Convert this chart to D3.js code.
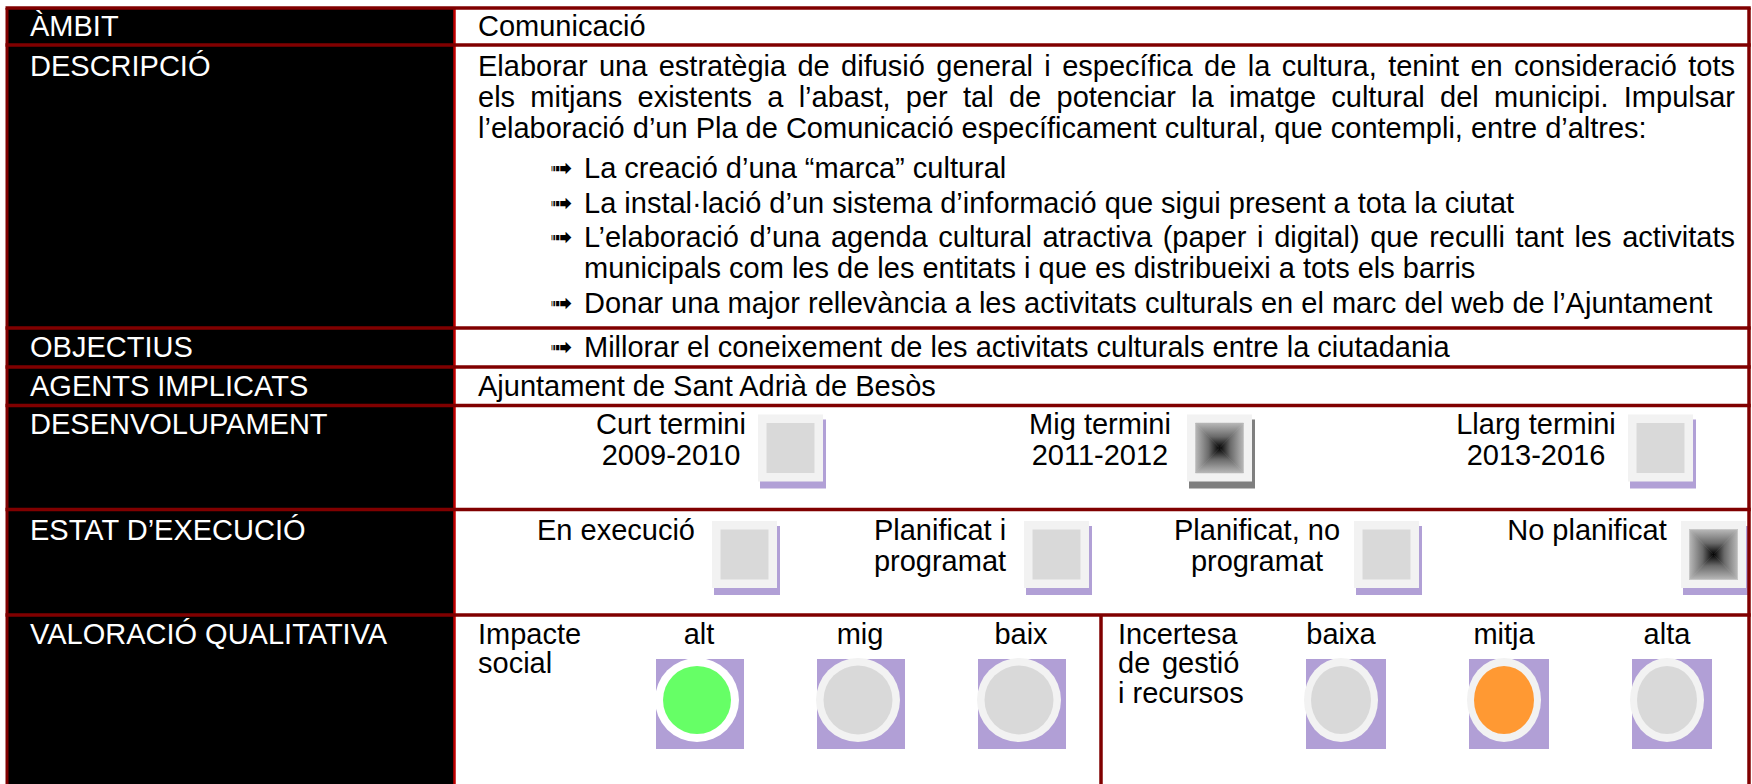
<!DOCTYPE html>
<html><head><meta charset="utf-8">
<script src="https://cdn.jsdelivr.net/npm/d3@7"></script>
<style>
body{margin:0;background:#fff;}
svg{display:block;}
text{font-family:"Liberation Sans",Arial,sans-serif;}
</style>
</head><body>
<svg id="c" width="1752" height="784"></svg>
<script>
// ---------- DATA ----------
const rowLabels = ["ÀMBIT","DESCRIPCIÓ","OBJECTIUS","AGENTS IMPLICATS","DESENVOLUPAMENT","ESTAT D’EXECUCIÓ","VALORACIÓ QUALITATIVA"];
const ambit = "Comunicació";
const descLines = [
  "Elaborar una estratègia de difusió general i específica de la cultura, tenint en consideració tots",
  "els mitjans existents a l’abast, per tal de potenciar la imatge cultural del municipi. Impulsar",
  "l’elaboració d’un Pla de Comunicació específicament cultural, que contempli, entre d’altres:"
];
const descJustified = [true, true, false];
const descBullets = [
  ["La creació d’una “marca” cultural"],
  ["La instal·lació d’un sistema d’informació que sigui present a tota la ciutat"],
  ["L’elaboració d’una agenda cultural atractiva (paper i digital) que reculli tant les activitats",
   "municipals com les de les entitats i que es distribueixi a tots els barris"],
  ["Donar una major rellevància a les activitats culturals en el marc del web de l’Ajuntament"]
];
const objectius = ["Millorar el coneixement de les activitats culturals entre la ciutadania"];
const agents = "Ajuntament de Sant Adrià de Besòs";
const terminiLabels = [["Curt termini","2009-2010"],["Mig termini","2011-2012"],["Llarg termini","2013-2016"]];
const terminiChecked = [false, true, false];
const estatLabels = [["En execució"],["Planificat i","programat"],["Planificat, no","programat"],["No planificat"]];
const estatChecked = [false, false, false, true];
const impacteTitle = ["Impacte","social"];
const impacteLevels = ["alt","mig","baix"];
const impacteSelected = "alt";
const incertesaTitle = ["Incertesa","de gestió","i recursos"];
const incertesaLevels = ["baixa","mitja","alta"];
const incertesaSelected = "mitja";

// ---------- LAYOUT ----------
const W = 1752, H = 784;
const FS = 29, LH = 31;
const leftX = 7, divX = 454.5, rightX = 1749;
const rowEdges = [8, 45, 328, 367, 405.5, 509.5, 615, 800];
const rowBase = [28, 31, 29, 29, 28, 30, 28.5];
const paraGapIntro = 9, paraGapBullet = 3.5;
const textX = 478, textR = 1735, labelX = 30;
const bulletX = 550, bulletTextX = 584;

const svg = d3.select("#c");
const defs = svg.append("defs");
const tmp = svg.append("text").attr("font-size", FS).attr("visibility","hidden");
const measure = s => { tmp.text(s); return tmp.node().getComputedTextLength(); };

const dirs = {top:[0,0,0,1], bottom:[0,1,0,0], left:[0,0,1,0], right:[1,0,0,0]};
Object.entries(dirs).forEach(([k,v])=>{
  const g = defs.append("linearGradient").attr("id","g-"+k)
    .attr("x1",v[0]).attr("y1",v[1]).attr("x2",v[2]).attr("y2",v[3]);
  g.append("stop").attr("offset","0").attr("stop-color","#b8b8b8");
  g.append("stop").attr("offset","0.55").attr("stop-color","#6a6a6a");
  g.append("stop").attr("offset","1").attr("stop-color","#000");
});

const yTop = d3.scaleOrdinal().domain(rowLabels).range(rowEdges.slice(0,7));
const yBase = d3.scaleOrdinal().domain(rowLabels).range(rowEdges.slice(0,7).map((e,i)=>e+rowBase[i]));

svg.append("rect").attr("x",leftX).attr("y",rowEdges[0]).attr("width",divX-leftX).attr("height",H-rowEdges[0]).attr("fill","#000");
svg.append("rect").attr("x",divX).attr("y",rowEdges[0]).attr("width",rightX-divX).attr("height",H-rowEdges[0]).attr("fill","#fff");

svg.append("g").selectAll("text").data(rowLabels).join("text")
  .attr("x",labelX).attr("y",d=>yBase(d)).attr("fill","#fff").attr("font-size",FS).text(d=>d);

const body = svg.append("g").attr("font-size",FS).attr("fill","#000");
function line(str, x, yy, width, anchor){
  if(width){
    const words = str.split(" ");
    const ws = words.map(measure);
    const gap = (width - d3.sum(ws))/(words.length-1);
    let cx = x;
    words.forEach((w,i)=>{ body.append("text").attr("x",cx).attr("y",yy).text(w); cx += ws[i]+gap; });
  } else {
    body.append("text").attr("x",x).attr("y",yy).attr("text-anchor",anchor||"start").text(str);
  }
}
function arrow(x, yy){
  body.append("text").attr("x",x).attr("y",yy-1).attr("font-family","DejaVu Sans").attr("font-size",27).text("➟");
}

line(ambit, textX, yBase(rowLabels[0]));
let yy = yBase(rowLabels[1]);
descLines.forEach((s,i)=>{ line(s, textX, yy, descJustified[i] ? textR-textX : null); yy += LH; });
yy += paraGapIntro;
descBullets.forEach(b=>{
  arrow(bulletX, yy);
  b.forEach((s,j)=>{
    const just = j < b.length-1;
    line(s, bulletTextX, yy, just ? textR-bulletTextX : null);
    yy += LH;
  });
  yy += paraGapBullet;
});
objectius.forEach((s,i)=>{ const yb = yBase(rowLabels[2])+i*LH; arrow(bulletX,yb); line(s, bulletTextX, yb); });
line(agents, textX, yBase(rowLabels[3]));

function checkbox(x, yb, checked, shadowCol){
  const w = 65, h = 67, ins = 8.5;
  const g = svg.append("g");
  g.append("rect").attr("x",x+2).attr("y",yb+5).attr("width",w+1).attr("height",h+2).attr("fill",shadowCol);
  g.append("rect").attr("x",x).attr("y",yb).attr("width",w).attr("height",h).attr("fill","#f2f2f2");
  const x0=x+ins, y0=yb+ins, x1=x+w-ins, y1=yb+h-ins, cx=(x0+x1)/2, cy=(y0+y1)/2;
  if(!checked){
    g.append("rect").attr("x",x0).attr("y",y0).attr("width",x1-x0).attr("height",y1-y0).attr("fill","#d9d9d9");
  } else {
    const tri = {top:[[x0,y0],[x1,y0],[cx,cy]], bottom:[[x0,y1],[x1,y1],[cx,cy]], left:[[x0,y0],[x0,y1],[cx,cy]], right:[[x1,y0],[x1,y1],[cx,cy]]};
    Object.entries(tri).forEach(([k,p])=>{
      g.append("path").attr("d",d3.line()(p)+"Z").attr("fill","url(#g-"+k+")").attr("stroke","url(#g-"+k+")").attr("stroke-width",0.5);
    });
  }
}

const terminiTextC = [671, 1100, 1536];
const terminiBoxX = [758, 1187, 1628];
const dTop = yTop(rowLabels[4]);
terminiLabels.forEach((ls,i)=>{
  ls.forEach((s,j)=> line(s, terminiTextC[i], yBase(rowLabels[4])+j*LH, null, "middle"));
  checkbox(terminiBoxX[i], dTop+9, terminiChecked[i], terminiChecked[i] ? "#7f7f7f" : "#b1a0d6");
});

const estatTextC = [616, 940, 1257, 1587];
const estatBoxX = [712, 1024, 1354, 1681];
const eTop = yTop(rowLabels[5]);
estatLabels.forEach((ls,i)=>{
  ls.forEach((s,j)=> line(s, estatTextC[i], yBase(rowLabels[5])+j*LH, null, "middle"));
  checkbox(estatBoxX[i], eTop+11.5, estatChecked[i], "#b1a0d6");
});

const vTop = yTop(rowLabels[6]), vBase = yBase(rowLabels[6]), VLH = 29.5;
impacteTitle.forEach((s,j)=> line(s, textX, vBase+j*VLH));
const incX = 1118;
const incW = measure(incertesaTitle[0]);
incertesaTitle.forEach((s,j)=> line(s, incX, vBase+j*VLH, j===1 ? incW+2 : null));

const impX = d3.scalePoint().domain(impacteLevels).range([697, 1019]);
const incXs = d3.scalePoint().domain(incertesaLevels).range([1341, 1667]);
const cyV = vTop + 85;

impacteLevels.forEach(l=>{
  const cx = impX(l), r = 42, sel = l===impacteSelected;
  line(l, cx+2, vBase, null, "middle");
  svg.append("rect").attr("x",cx-r+1).attr("y",cyV-r+1).attr("width",2*r+4).attr("height",2*r+6).attr("fill","#b19fd6");
  svg.append("circle").attr("cx",cx).attr("cy",cyV).attr("r",r).attr("fill", sel ? "#ffffff" : "#f2f2f2");
  svg.append("circle").attr("cx",cx).attr("cy",cyV).attr("r",sel?34:34.5).attr("fill", sel ? "#66ff66" : "#d9d9d9");
});
incertesaLevels.forEach(l=>{
  const cx = incXs(l), rx = 37, ry = 42, sel = l===incertesaSelected;
  line(l, cx, vBase, null, "middle");
  svg.append("rect").attr("x",cx-rx+2).attr("y",cyV-ry+1).attr("width",2*rx+6).attr("height",2*ry+6).attr("fill","#b19fd6");
  svg.append("ellipse").attr("cx",cx).attr("cy",cyV).attr("rx",rx).attr("ry",ry).attr("fill","#f2f2f2");
  svg.append("ellipse").attr("cx",cx).attr("cy",cyV).attr("rx",rx-7).attr("ry",ry-8).attr("fill", sel ? "#ff9933" : "#d9d9d9");
});

const bc = "#800000";
svg.append("line").attr("x1",divX).attr("x2",divX).attr("y1",rowEdges[0]).attr("y2",H).attr("stroke","#c00000").attr("stroke-width",2.5);
svg.append("line").attr("x1",1101).attr("x2",1101).attr("y1",vTop).attr("y2",H).attr("stroke",bc).attr("stroke-width",3.5);
svg.append("line").attr("x1",leftX).attr("x2",leftX).attr("y1",rowEdges[0]).attr("y2",H).attr("stroke",bc).attr("stroke-width",3);
svg.append("line").attr("x1",rightX).attr("x2",rightX).attr("y1",rowEdges[0]).attr("y2",H).attr("stroke",bc).attr("stroke-width",3.5);
svg.append("g").selectAll("line").data(rowEdges.slice(0,7)).join("line")
  .attr("x1",leftX-1.5).attr("x2",rightX+1.75).attr("y1",d=>d).attr("y2",d=>d)
  .attr("stroke",bc).attr("stroke-width",3.5);
tmp.remove();
</script>
</body></html>
